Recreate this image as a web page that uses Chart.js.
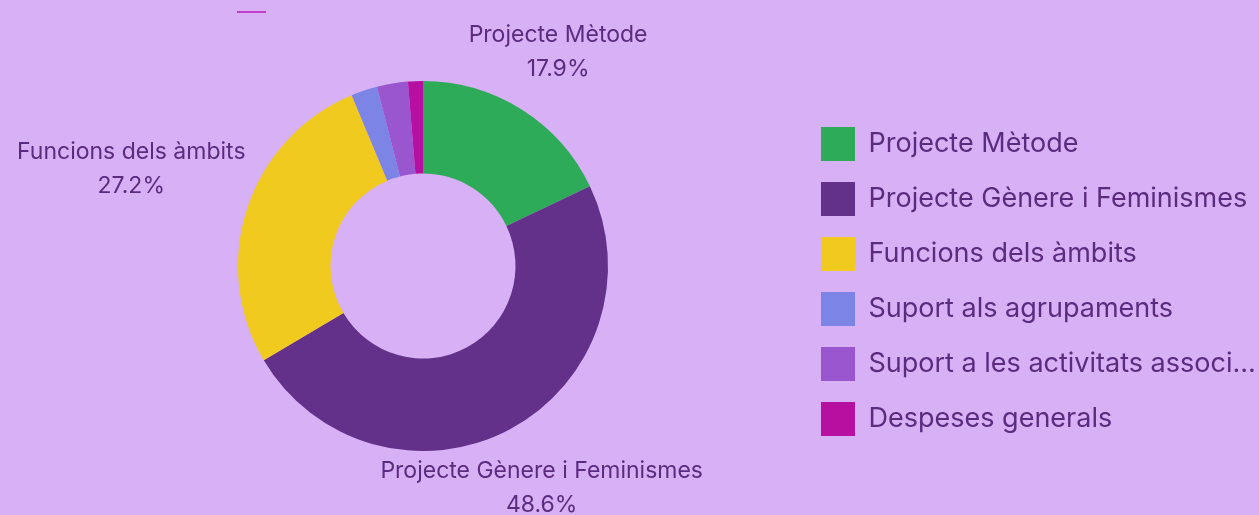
<!DOCTYPE html>
<html lang="ca">
<head>
<meta charset="utf-8">
<title>Despeses per projecte</title>
<script src="https://cdn.jsdelivr.net/npm/chart.js@4.4.1/dist/chart.umd.min.js"></script>
<style>
    html, body { margin: 0; padding: 0; background: #d8b0f5; }
    #wrap { position: relative; width: 1259px; height: 515px; }
    #mark { position: absolute; left: 237px; top: 11px; width: 29px; height: 2px; background: #c23fc6; }
</style>
</head>
<body>
<div id="wrap">
    <canvas id="chart"></canvas>
    <div id="mark"></div>
</div>
<script>
// Dades (percentatge del total)
const categories = [
    'Projecte Mètode',
    'Projecte Gènere i Feminismes',
    'Funcions dels àmbits',
    'Suport als agrupaments',
    'Suport a les activitats associatives',
    'Despeses generals'
];
const values = [17.9, 48.6, 27.2, 2.3, 2.7, 1.3];
const colors = ['#2eab59', '#633189', '#f0ca1e', '#7c85e6', '#9a56cf', '#b70fa0'];
// Només es mostra l'etiqueta a les porcions grans
const labelShown = [true, true, true, false, false, false];

const textColor = '#5b2b80';
const fontFamily = 'Inter, "Noto Sans", sans-serif';

// Etiquetes exteriors: nom + percentatge
const outerLabels = {
    id: 'outerLabels',
    afterDatasetsDraw(chart) {
        const ctx = chart.ctx;
        const meta = chart.getDatasetMeta(0);
        const total = values.reduce((a, b) => a + b, 0);
        ctx.save();
        ctx.fillStyle = textColor;
        ctx.font = '23px ' + fontFamily;
        ctx.textAlign = 'center';
        ctx.textBaseline = 'middle';
        meta.data.forEach((arc, i) => {
            if (!labelShown[i]) return;
            const p = arc.getProps(['x', 'y', 'startAngle', 'endAngle', 'outerRadius'], true);
            const mid = (p.startAngle + p.endAngle) / 2;
            const ux = Math.cos(mid);
            const uy = Math.sin(mid);
            // les etiquetes de sota queden una mica més lluny
            const dist = p.outerRadius + 64 + 130 * (Math.abs(ux) - 0.5) + (uy > 0 ? 7 : 0);
            const cx = p.x + ux * dist;
            const cy = p.y + uy * dist;
            const pct = (values[i] / total * 100).toFixed(1) + '%';
            ctx.fillText(categories[i], cx, cy - 17);
            ctx.fillText(pct, cx, cy + 17);
        });
        ctx.restore();
    }
};

new Chart(document.getElementById('chart').getContext('2d'), {
    type: 'doughnut',
    data: {
        labels: categories,
        datasets: [{
            data: values,
            backgroundColor: colors,
            borderWidth: 0,
            radius: 185,
            cutout: '50%'
        }]
    },
    options: {
        responsive: true,
        maintainAspectRatio: false,
        animation: false,
        layout: {
            padding: { left: 46, top: 17, right: 0, bottom: 0 }
        },
        plugins: {
            tooltip: { enabled: false },
            title: { display: false },
            legend: {
                position: 'right',
                align: 'center',
                maxWidth: 459,
                title: {
                    display: true,
                    text: '',
                    font: { size: 10, lineHeight: 1.1 },
                    padding: { top: 10, bottom: 10 }
                },
                labels: {
                    boxWidth: 34,
                    boxHeight: 34,
                    padding: 21,
                    color: textColor,
                    font: { size: 27, family: fontFamily },
                    generateLabels(chart) {
                        return categories.map((name, i) => ({
                            text: name.length > 30 ? name.slice(0, 30) + '...' : name,
                            fillStyle: colors[i],
                            strokeStyle: colors[i],
                            lineWidth: 0,
                            fontColor: textColor,
                            hidden: false,
                            index: i
                        }));
                    }
                }
            }
        }
    },
    plugins: [outerLabels]
});
</script>
</body>
</html>
